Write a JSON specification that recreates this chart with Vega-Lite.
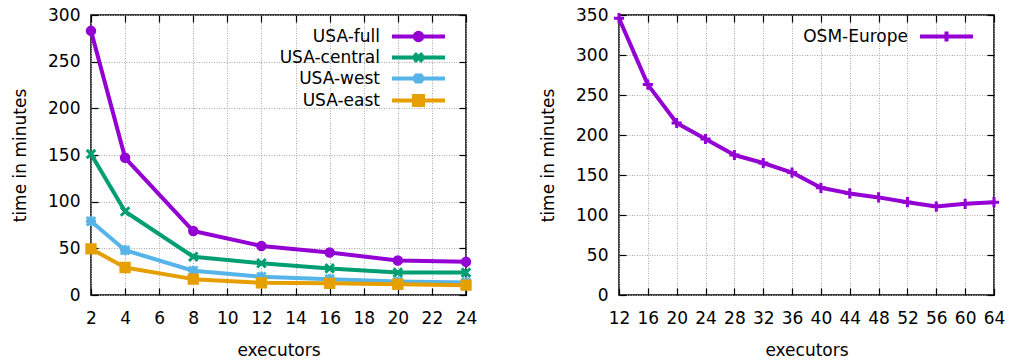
{
  "$schema": "https://vega.github.io/schema/vega-lite/v6.json",
  "padding": {"left": 10, "top": 5, "right": 5, "bottom": 5},
  "spacing": 60,
  "config": {
    "font": "DejaVu Sans",
    "view": {"stroke": "black", "strokeWidth": 1.5},
    "axis": {
      "labelFont": "DejaVu Sans", "labelFontSize": 17, "labelColor": "black",
      "titleFont": "DejaVu Sans", "titleFontSize": 17, "titleFontWeight": "normal", "titleColor": "black",
      "labelOverlap": false, "labelFlush": false, "labelBound": false,
      "domain": false, "tickColor": "black", "tickSize": -7, "tickWidth": 1.2,
      "gridColor": "#a8a8a8", "gridDash": [1, 1.5], "gridWidth": 1, "gridOpacity": 1
    },
    "legend": {
      "orient": "top-right", "title": null, "padding": 0,
      "labelAlign": "right", "labelOffset": -47, "labelFont": "DejaVu Sans", "labelFontSize": 17, "labelColor": "black",
      "symbolSize": 100, "symbolStrokeWidth": 4, "rowPadding": -5.5, "offset": 13
    }
  },
  "hconcat": [
    {
      "width": 375, "height": 280,
      "data": {"values": [
        {"series": "USA-full", "executors": 2, "time": 283},
        {"series": "USA-full", "executors": 4, "time": 147},
        {"series": "USA-full", "executors": 8, "time": 68.5},
        {"series": "USA-full", "executors": 12, "time": 52.5},
        {"series": "USA-full", "executors": 16, "time": 45.5},
        {"series": "USA-full", "executors": 20, "time": 37},
        {"series": "USA-full", "executors": 24, "time": 35.5},
        {"series": "USA-central", "executors": 2, "time": 151},
        {"series": "USA-central", "executors": 4, "time": 89.5},
        {"series": "USA-central", "executors": 8, "time": 41},
        {"series": "USA-central", "executors": 12, "time": 34},
        {"series": "USA-central", "executors": 16, "time": 28.5},
        {"series": "USA-central", "executors": 20, "time": 24},
        {"series": "USA-central", "executors": 24, "time": 24},
        {"series": "USA-west", "executors": 2, "time": 79},
        {"series": "USA-west", "executors": 4, "time": 48},
        {"series": "USA-west", "executors": 8, "time": 26},
        {"series": "USA-west", "executors": 12, "time": 19.5},
        {"series": "USA-west", "executors": 16, "time": 17},
        {"series": "USA-west", "executors": 20, "time": 14.5},
        {"series": "USA-west", "executors": 24, "time": 13.5},
        {"series": "USA-east", "executors": 2, "time": 49.5},
        {"series": "USA-east", "executors": 4, "time": 29.5},
        {"series": "USA-east", "executors": 8, "time": 17},
        {"series": "USA-east", "executors": 12, "time": 13},
        {"series": "USA-east", "executors": 16, "time": 12.5},
        {"series": "USA-east", "executors": 20, "time": 11.5},
        {"series": "USA-east", "executors": 24, "time": 10.5}
      ]},
      "layer": [
        {
          "mark": {"type": "line", "strokeWidth": 4, "strokeJoin": "round"},
          "encoding": {
            "x": {"field": "executors", "type": "quantitative", "scale": {"domain": [2, 24], "nice": false},
              "axis": {"orient": "bottom", "values": [2,4,6,8,10,12,14,16,18,20,22,24], "title": "executors", "grid": true, "labelPadding": 22, "titlePadding": 16}},
            "y": {"field": "time", "type": "quantitative", "scale": {"domain": [0, 300], "nice": false},
              "axis": {"orient": "left", "values": [0,50,100,150,200,250,300], "title": "time in minutes", "grid": true, "labelPadding": 18, "titlePadding": 18}},
            "color": {"field": "series", "type": "nominal",
              "scale": {"domain": ["USA-full", "USA-central", "USA-west", "USA-east"], "range": ["#9400D3", "#009E73", "#56B4E9", "#E69F00"]},
              "legend": {
                "encode": {"symbols": {"update": {
                  "shape": {"signal": "datum.value === 'USA-full' ? 'M-5.3,0L5.3,0M-0.75,0A0.75,0.75 0 1,0 0.75,0A0.75,0.75 0 1,0 -0.75,0Z' : datum.value === 'USA-central' ? 'M-5.3,0L5.3,0M-0.8,-0.8L0.8,0.8M0.8,-0.8L-0.8,0.8' : datum.value === 'USA-west' ? 'M-5.3,0L5.3,0M-0.8,-0.8L0.8,0.8M0.8,-0.8L-0.8,0.8M0,-1L0,1' : 'M-5.3,0L5.3,0M-0.9,-0.9L0.9,-0.9L0.9,0.9L-0.9,0.9Z'"},
                  "fill": {"signal": "datum.value === 'USA-full' ? '#9400D3' : datum.value === 'USA-central' ? '#009E73' : datum.value === 'USA-west' ? '#56B4E9' : '#E69F00'"},
                  "stroke": {"signal": "datum.value === 'USA-full' ? '#9400D3' : datum.value === 'USA-central' ? '#009E73' : datum.value === 'USA-west' ? '#56B4E9' : '#E69F00'"},
                  "strokeWidth": {"value": 4},
                  "opacity": {"value": 1}
                }}}
              }}
          }
        },
        {
          "transform": [{"filter": "datum.series === 'USA-full'"}],
          "mark": {"type": "point", "shape": "circle", "filled": true, "size": 72, "strokeWidth": 2, "color": "#9400D3", "stroke": "#9400D3", "opacity": 1},
          "encoding": {
            "x": {"field": "executors", "type": "quantitative",
              "axis": {"orient": "top", "values": [2,4,6,8,10,12,14,16,18,20,22,24], "labels": false, "title": null, "grid": false}},
            "y": {"field": "time", "type": "quantitative",
              "axis": {"orient": "right", "values": [0,50,100,150,200,250,300], "labels": false, "title": null, "grid": false}}
          }
        },
        {
          "transform": [{"filter": "datum.series === 'USA-central'"}],
          "mark": {"type": "point", "shape": "M-1,-1L1,1M1,-1L-1,1", "filled": false, "size": 72, "strokeWidth": 3, "color": "#009E73", "opacity": 1},
          "encoding": {
            "x": {"field": "executors", "type": "quantitative", "axis": null},
            "y": {"field": "time", "type": "quantitative", "axis": null}
          }
        },
        {
          "transform": [{"filter": "datum.series === 'USA-west'"}],
          "mark": {"type": "point", "shape": "M-1,-1L1,1M1,-1L-1,1M-1.2,0L1.2,0M0,-1.2L0,1.2", "filled": false, "size": 72, "strokeWidth": 3, "color": "#56B4E9", "opacity": 1},
          "encoding": {
            "x": {"field": "executors", "type": "quantitative", "axis": null},
            "y": {"field": "time", "type": "quantitative", "axis": null}
          }
        },
        {
          "transform": [{"filter": "datum.series === 'USA-east'"}],
          "mark": {"type": "point", "shape": "M-1.1,-1.1L1.1,-1.1L1.1,1.1L-1.1,1.1Z", "filled": true, "size": 72, "strokeWidth": 2, "color": "#E69F00", "stroke": "#E69F00", "opacity": 1},
          "encoding": {
            "x": {"field": "executors", "type": "quantitative", "axis": null},
            "y": {"field": "time", "type": "quantitative", "axis": null}
          }
        }
      ],
      "resolve": {"axis": {"x": "independent", "y": "independent"}}
    },
    {
      "width": 375, "height": 280,
      "data": {"values": [
        {"series": "OSM-Europe", "executors": 12, "time": 346},
        {"series": "OSM-Europe", "executors": 16, "time": 263},
        {"series": "OSM-Europe", "executors": 20, "time": 215},
        {"series": "OSM-Europe", "executors": 24, "time": 195},
        {"series": "OSM-Europe", "executors": 28, "time": 175},
        {"series": "OSM-Europe", "executors": 32, "time": 165},
        {"series": "OSM-Europe", "executors": 36, "time": 153},
        {"series": "OSM-Europe", "executors": 40, "time": 134},
        {"series": "OSM-Europe", "executors": 44, "time": 127},
        {"series": "OSM-Europe", "executors": 48, "time": 122},
        {"series": "OSM-Europe", "executors": 52, "time": 116},
        {"series": "OSM-Europe", "executors": 56, "time": 110.5},
        {"series": "OSM-Europe", "executors": 60, "time": 114},
        {"series": "OSM-Europe", "executors": 64, "time": 116}
      ]},
      "layer": [
        {
          "mark": {"type": "line", "strokeWidth": 4, "strokeJoin": "round"},
          "encoding": {
            "x": {"field": "executors", "type": "quantitative", "scale": {"domain": [12, 64], "nice": false},
              "axis": {"orient": "bottom", "values": [12,16,20,24,28,32,36,40,44,48,52,56,60,64], "title": "executors", "grid": true, "labelPadding": 22, "titlePadding": 16}},
            "y": {"field": "time", "type": "quantitative", "scale": {"domain": [0, 350], "nice": false},
              "axis": {"orient": "left", "values": [0,50,100,150,200,250,300,350], "title": "time in minutes", "grid": true, "labelPadding": 18, "titlePadding": 18}},
            "color": {"field": "series", "type": "nominal",
              "scale": {"domain": ["OSM-Europe"], "range": ["#9400D3"]},
              "legend": {
                "encode": {"symbols": {"update": {
                  "shape": {"value": "M-5.3,0L5.3,0M0,-1L0,1"},
                  "fill": {"value": "#9400D3"},
                  "stroke": {"value": "#9400D3"},
                  "strokeWidth": {"value": 4},
                  "opacity": {"value": 1}
                }}}
              }}
          }
        },
        {
          "mark": {"type": "point", "shape": "M-1.2,0L1.2,0M0,-1.2L0,1.2", "filled": false, "size": 72, "strokeWidth": 3, "color": "#9400D3", "opacity": 1},
          "encoding": {
            "x": {"field": "executors", "type": "quantitative",
              "axis": {"orient": "top", "values": [12,16,20,24,28,32,36,40,44,48,52,56,60,64], "labels": false, "title": null, "grid": false}},
            "y": {"field": "time", "type": "quantitative",
              "axis": {"orient": "right", "values": [0,50,100,150,200,250,300,350], "labels": false, "title": null, "grid": false}}
          }
        }
      ],
      "resolve": {"axis": {"x": "independent", "y": "independent"}}
    }
  ],
  "resolve": {"scale": {"color": "independent"}, "legend": {"color": "independent"}}
}
